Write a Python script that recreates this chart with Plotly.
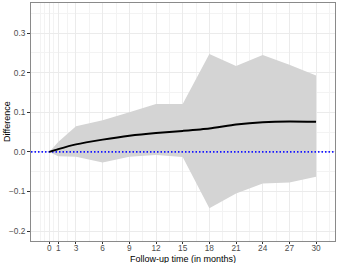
import plotly.graph_objects as go

months = [0, 1, 3, 6, 9, 12, 15, 18, 21, 24, 27, 30]
difference = [0.0, 0.007, 0.019, 0.031, 0.041, 0.048, 0.053, 0.059, 0.069, 0.075, 0.077, 0.076]
upper = [0.0, 0.025, 0.065, 0.080, 0.100, 0.121, 0.121, 0.247, 0.217, 0.245, 0.220, 0.193]
lower = [0.0, -0.011, -0.012, -0.027, -0.012, -0.008, -0.013, -0.142, -0.105, -0.080, -0.077, -0.063]
x_ticks = [0, 1, 3, 6, 9, 12, 15, 18, 21, 24, 27, 30]
y_ticks = [-0.2, -0.1, 0.0, 0.1, 0.2, 0.3]
y_ticklabels = ["\u22120.2", "\u22120.1", "0.0", "0.1", "0.2", "0.3"]
x_minor = [-1, -0.5, 0.5, 2, 4.5, 7.5, 10.5, 13.5, 16.5, 19.5, 22.5, 25.5, 28.5, 31.5]
y_minor = [-0.15, -0.05, 0.05, 0.15, 0.25, 0.35]

fig = go.Figure()
fig.add_trace(go.Scatter(
    x=months + months[::-1], y=upper + lower[::-1],
    fill="toself", fillcolor="#D4D4D4", line=dict(width=0),
    mode="lines", hoverinfo="skip", showlegend=False))
fig.add_trace(go.Scatter(
    x=[-2.06, 32.13], y=[0, 0], mode="lines",
    line=dict(color="#1515FF", width=1.6, dash="1.5px,2px"), showlegend=False))
fig.add_trace(go.Scatter(
    x=months, y=difference, mode="lines",
    line=dict(color="black", width=2, shape="spline", smoothing=0.6),
    showlegend=False))

fig.update_layout(
    width=338, height=263,
    margin=dict(l=31, r=3, t=3, b=22),
    paper_bgcolor="white", plot_bgcolor="white",
    font=dict(family="Liberation Sans, Arial, sans-serif", size=8, color="black"),
    xaxis=dict(
        range=[-2.06, 32.13], tickmode="array", tickvals=x_ticks,
        ticks="outside", ticklen=2, tickcolor="#333333",
        tickfont=dict(size=8.3, color="#4D4D4D"), ticklabelstandoff=-3,
        showgrid=True, gridcolor="#EBEBEB", gridwidth=1,
        minor=dict(tickmode="array", tickvals=x_minor, showgrid=True,
                   gridcolor="#F3F3F3", gridwidth=0.6, ticks=""),
        showline=True, linecolor="#8A8A8A", linewidth=1, mirror=True,
        zeroline=False, automargin=False,
    ),
    yaxis=dict(
        range=[-0.225, 0.376], tickmode="array", tickvals=y_ticks, ticktext=y_ticklabels,
        ticks="outside", ticklen=3, tickcolor="#333333",
        tickfont=dict(size=8.3, color="#4D4D4D"),
        showgrid=True, gridcolor="#EBEBEB", gridwidth=1,
        minor=dict(tickmode="array", tickvals=y_minor, showgrid=True,
                   gridcolor="#F3F3F3", gridwidth=0.6, ticks=""),
        showline=True, linecolor="#8A8A8A", linewidth=1, mirror=True,
        zeroline=False, automargin=False,
    ),
    annotations=[
        dict(text="Follow-up time (in months)", xref="paper", yref="paper",
             x=0.5, y=0, yshift=-11, xanchor="center", yanchor="top",
             showarrow=False, font=dict(size=9, color="black")),
        dict(text="Difference", xref="paper", yref="paper",
             x=0, y=0.5, xshift=-17, xanchor="right", yanchor="middle",
             textangle=-90, showarrow=False, font=dict(size=9, color="black")),
    ],
)
fig.write_html("out.html", config={"displayModeBar": False},
               post_script="document.body.style.margin='0';document.body.style.overflow='hidden';")
